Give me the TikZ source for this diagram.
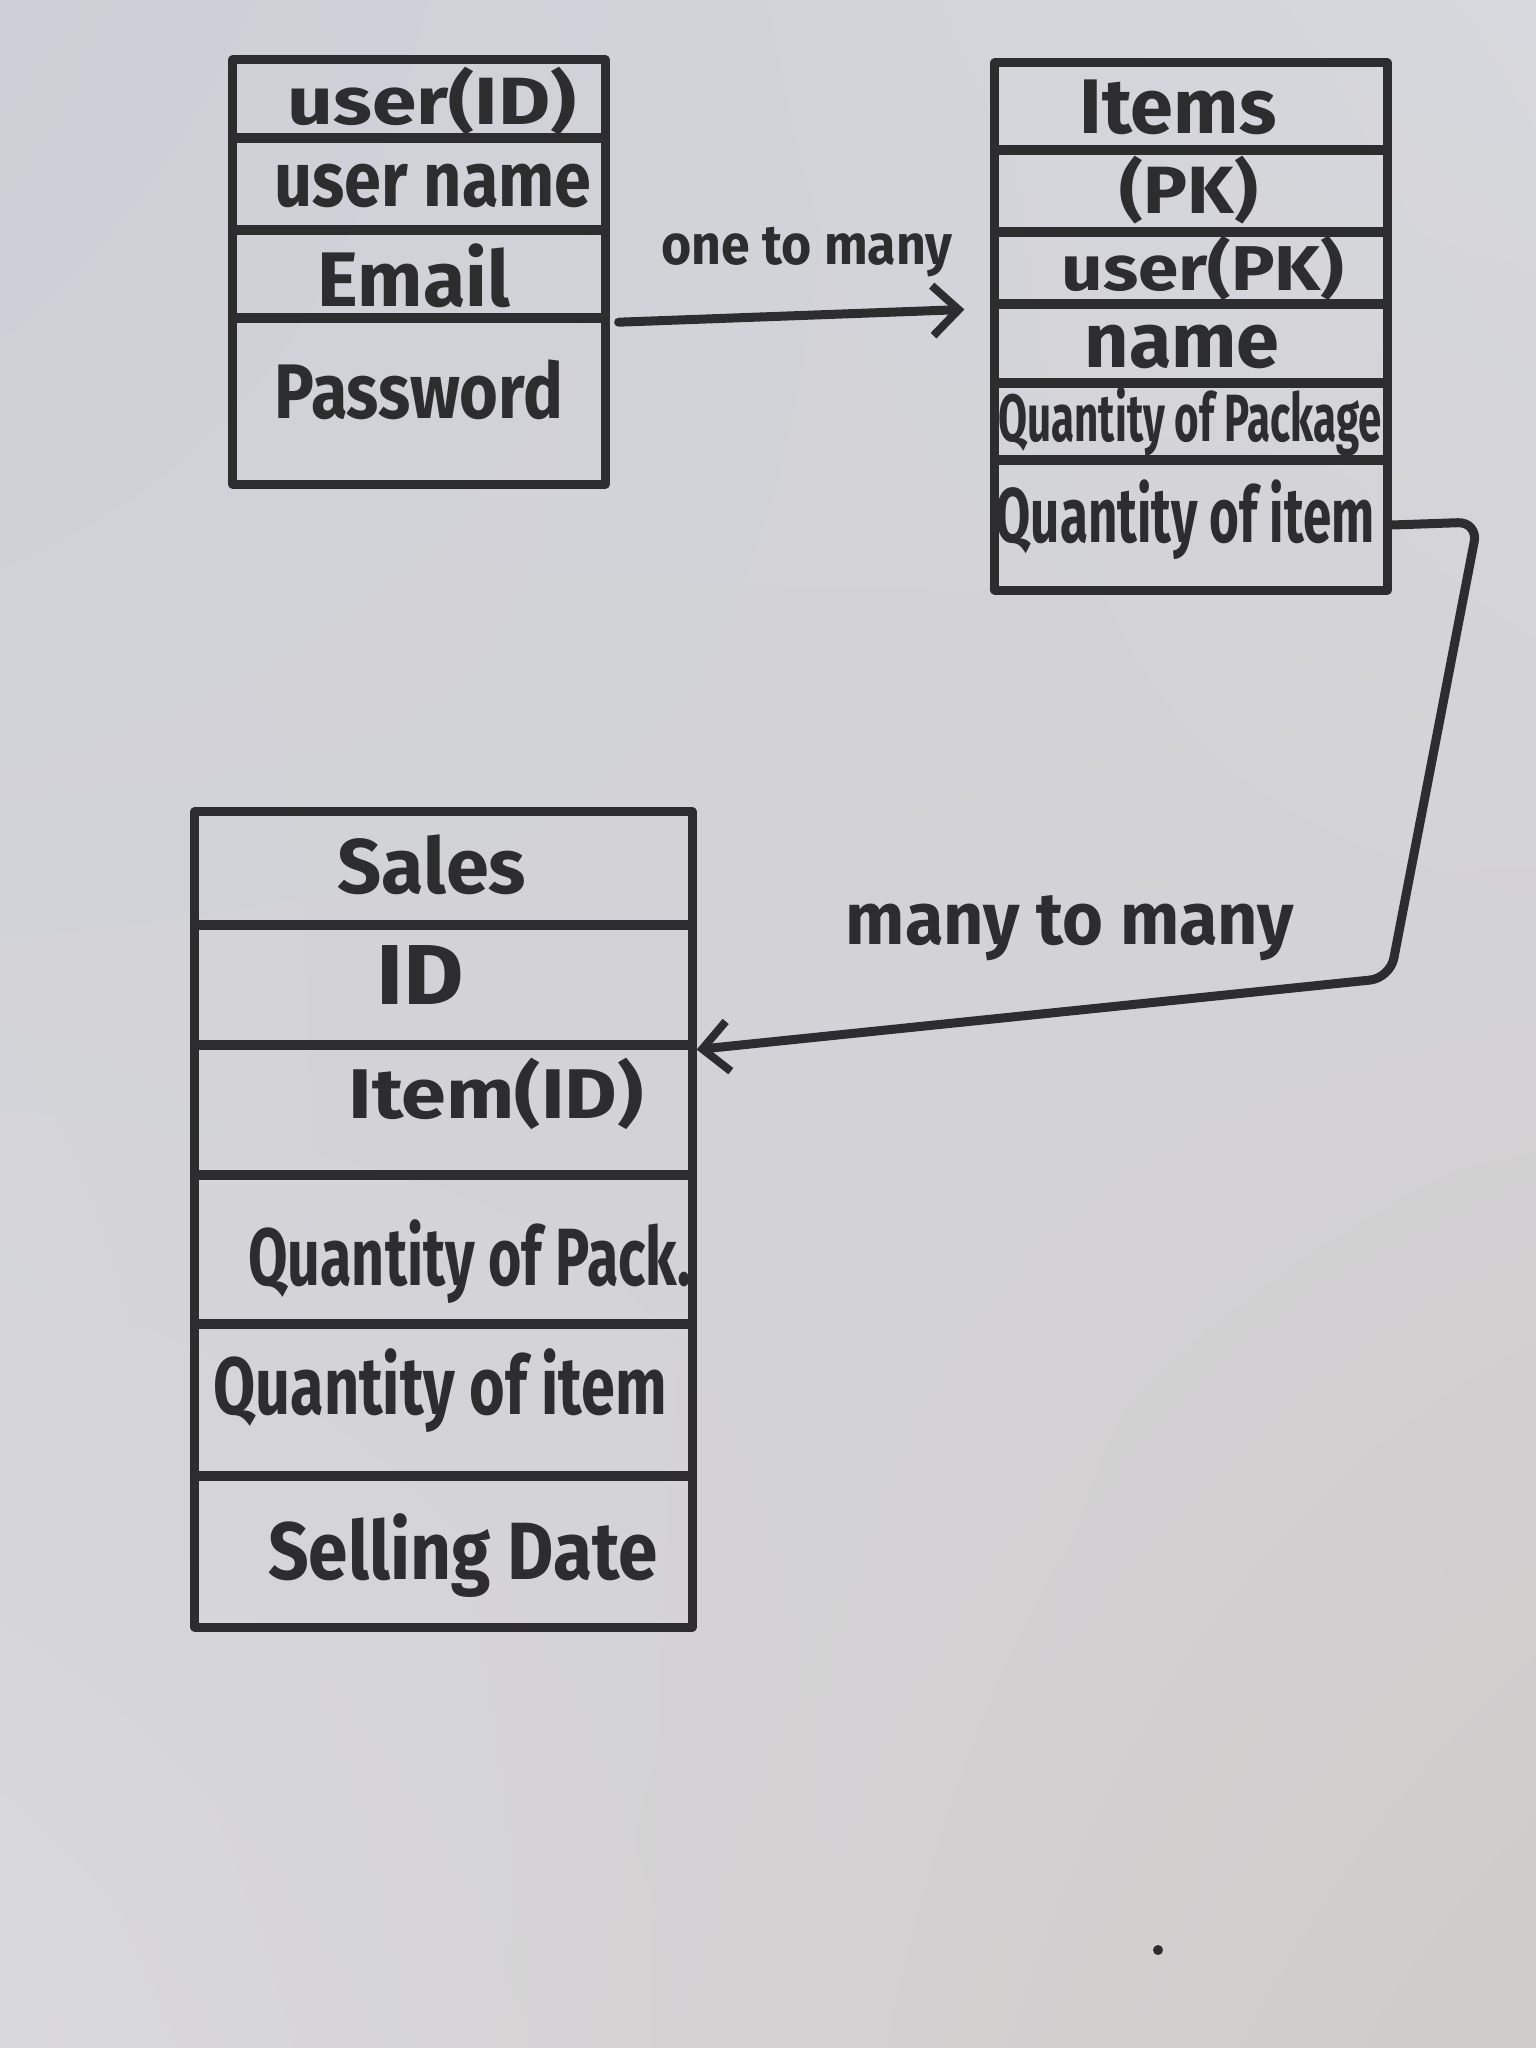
\documentclass[tikz,border=0pt]{standalone}
\usepackage{fontspec}
\setmainfont{Fira Sans}
\usetikzlibrary{arrows.meta,shadings}

\definecolor{ink}{HTML}{2D2D30}
\definecolor{paperUL}{HTML}{CDCFD6}
\definecolor{paperUR}{HTML}{D7D8DD}
\definecolor{paperLL}{HTML}{D9D8DB}
\definecolor{paperLR}{HTML}{CFCBCA}

\tikzset{
  pen/.style={draw=ink, line width=0.09cm, line cap=round, line join=round},
  rowbox/.style={pen, rectangle, inner sep=0pt, anchor=center},
  txt/.style={text=ink, inner sep=0pt, font=\fontsize{22}{26}\selectfont\bfseries},
  small/.style={font=\fontsize{19}{23}\selectfont\bfseries},
  reltxt/.style={text=ink, inner sep=0pt, font=\fontsize{16}{19}\selectfont\bfseries},
  link/.style={pen, -{Straight Barb[length=0.26cm, width=0.5cm, line width=0.08cm]}},
}

\begin{document}
\begin{tikzpicture}[x=0.01cm, y=-0.01cm]
  % paper
  \useasboundingbox (0,0) rectangle (1536,2048);
  \shade[upper left=paperUL, upper right=paperUR, lower left=paperLL, lower right=paperLR]
    (0,0) rectangle (1536,2048);

  % ---------- user table ----------
  \node[rowbox, minimum width=3.72cm, minimum height=0.78cm] (uTitle) at (419,99)  {};
  \node[rowbox, minimum width=3.72cm, minimum height=0.92cm] (uName)  at (419,184) {};
  \node[rowbox, minimum width=3.72cm, minimum height=0.88cm] (uEmail) at (419,274) {};
  \node[rowbox, minimum width=3.72cm, minimum height=1.66cm] (uPass)  at (419,401) {};
  \node[txt, small] (uTitleT) at (432,101) {\scalebox{1.2}[1]{user(ID)}};
  \node[txt] (uNameT)  at (433,186) {\scalebox{0.86}[1]{user name}};
  \node[txt] (uEmailT) at (414,276) {Email};
  \node[txt] (uPassT)  at (419,390) {\scalebox{0.86}[1]{Password}};

  % ---------- Items table ----------
  \node[rowbox, minimum width=3.92cm, minimum height=0.87cm] (iTitle) at (1191,106.5) {};
  \node[rowbox, minimum width=3.92cm, minimum height=0.82cm] (iPK)    at (1191,191)   {};
  \node[rowbox, minimum width=3.92cm, minimum height=0.72cm] (iUser)  at (1191,268)   {};
  \node[rowbox, minimum width=3.92cm, minimum height=0.79cm] (iName)  at (1191,343.5) {};
  \node[rowbox, minimum width=3.92cm, minimum height=0.77cm] (iQty1)  at (1191,421.5) {};
  \node[rowbox, minimum width=3.92cm, minimum height=1.30cm] (iQty2)  at (1191,525)   {};
  \node[txt] (iTitleT) at (1178,107) {Items};
  \node[txt, small] (iPKT) at (1189,190) {\scalebox{1.1}[1]{(PK)}};
  \node[txt, font=\fontsize{18}{22}\selectfont\bfseries] (iUserT) at (1203,268)
    {\scalebox{1.15}[1]{user(PK)}};
  \node[txt] (iNameT)  at (1182,347) {name};
  \node[txt, font=\fontsize{19}{23}\selectfont\bfseries] (iQty1T) at (1190,422)
    {\scalebox{0.63}[1]{Quantity of Package}};
  \node[txt] (iQty2T) at (1185,520) {\scalebox{0.66}[1]{Quantity of item}};

  % ---------- Sales table ----------
  \node[rowbox, minimum width=4.97cm, minimum height=1.13cm] (sTitle) at (443.5,868.5)  {};
  \node[rowbox, minimum width=4.97cm, minimum height=1.20cm] (sID)    at (443.5,985)    {};
  \node[rowbox, minimum width=4.97cm, minimum height=1.30cm] (sItem)  at (443.5,1110)   {};
  \node[rowbox, minimum width=4.97cm, minimum height=1.49cm] (sPack)  at (443.5,1249.5) {};
  \node[rowbox, minimum width=4.97cm, minimum height=1.52cm] (sQty)   at (443.5,1400)   {};
  \node[rowbox, minimum width=4.97cm, minimum height=1.51cm] (sDate)  at (443.5,1551.5) {};
  \node[txt] (sTitleT) at (432,865)  {Sales};
  \node[txt] (sIDT)    at (420,975)  {\scalebox{1.2}[1.1]{ID}};
  \node[txt, font=\fontsize{20}{24}\selectfont\bfseries] (sItemT) at (496,1094)
    {\scalebox{1.15}[1]{Item(ID)}};
  \node[txt] (sPackT)  at (470,1262) {\scalebox{0.74}[1.05]{Quantity of Pack.}};
  \node[txt] (sQtyT)   at (440,1391) {\scalebox{0.79}[1.05]{Quantity of item}};
  \node[txt] (sDateT)  at (463,1556) {\scalebox{0.92}[1.05]{Selling Date}};

  % ---------- relations ----------
  \draw[link, shorten <=0.09cm, shorten >=0.26cm] (uEmail.south east) -- (iUser.south west);
  \node[reltxt] (one) at (807,252) {\scalebox{0.92}[1]{one to many}};

  \coordinate (turnA) at (1478,522);
  \coordinate (turnB) at (1390,978);
  \draw[link, rounded corners=0.2cm] (iQty2.east) -- (turnA) -- (turnB) -- (sID.south east);
  \node[reltxt, font=\fontsize{21}{25}\selectfont\bfseries] (many) at (1070,928)
    {\scalebox{0.95}[1]{many to many}};

  % ink speck on the sheet
  \fill[ink] (1158,1950) circle (5);
\end{tikzpicture}
\end{document}
